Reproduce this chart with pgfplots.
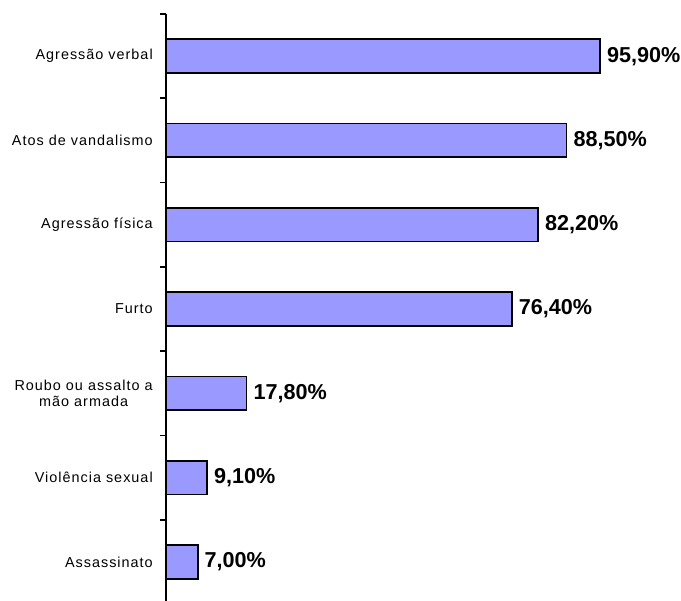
\documentclass[border=0pt]{standalone}
\usepackage{pgfplots}
\pgfplotsset{compat=1.18}
\usepackage{fontspec}
\setmainfont{Liberation Sans}
\newfontfamily\catfont[LetterSpace=7]{Liberation Sans}
\definecolor{barblue}{RGB}{153,153,255}
\begin{document}
\begin{tikzpicture}
\useasboundingbox (0,0) rectangle (510.75pt,-450pt);
\begin{axis}[
  at={(124.5pt,-10.5pt)}, anchor=north west,
  scale only axis, width=339.45pt, height=442.5pt,
  xbar, bar width=0.4,
  xmin=0, xmax=100, ymin=-0.5, ymax=6.5, y dir=reverse,
  axis x line=none, axis y line=left,
  axis line style={-, line width=1.3pt, black},
  ytick={0,...,6},
  yticklabels={Agressão verbal, Atos de vandalismo, Agressão física, Furto, {Roubo ou assalto a\\mão armada}, Violência sexual, Assassinato},
  minor ytick={-0.5,0.5,...,6.5},
  major tick length=0pt, minor tick length=4.5pt, tick align=outside,
  tick style={line width=1.3pt, black},
  minor tick style={line width=1.3pt, black},
  yticklabel style={font=\catfont\fontsize{10.8}{12}\selectfont, align=center, inner sep=0pt, xshift=-9.75pt},
  nodes near coords, point meta=explicit symbolic,
  every node near coord/.append style={font=\fontsize{16.2}{18}\selectfont\bfseries, inner sep=0pt, anchor=west, xshift=4.6pt, black},
  clip=false,
]
\addplot[fill=barblue, draw=black, line width=1.3pt] coordinates {
  (95.9,0) [95,90\%]
  (88.5,1) [88,50\%]
  (82.2,2) [82,20\%]
  (76.4,3) [76,40\%]
  (17.8,4) [17,80\%]
  (9.1,5) [9,10\%]
  (7.0,6) [7,00\%]
};
\end{axis}
\end{tikzpicture}
\end{document}
